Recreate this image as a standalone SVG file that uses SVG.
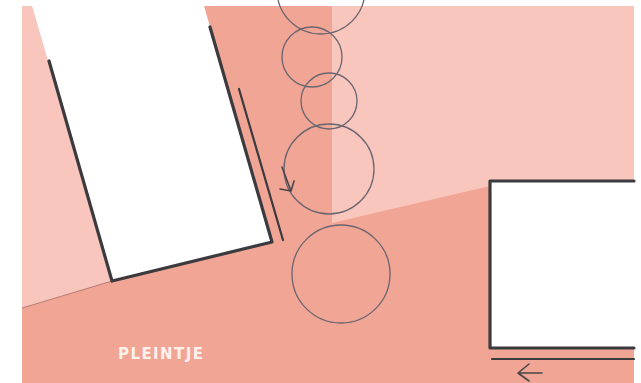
<svg xmlns="http://www.w3.org/2000/svg" width="641" height="383" viewBox="0 0 641 383">
  <style>
    .ink { fill: none; stroke: #3b3b3f; stroke-linecap: round; stroke-linejoin: round; }
    .bold { stroke-width: 3.2; }
    .thin { stroke-width: 2.2; }
    .circ { fill: none; stroke: #6a6570; stroke-width: 1.3; }
    .arrow { fill: none; stroke: #4a4548; stroke-width: 1.6; stroke-linecap: round; stroke-linejoin: round; }
    .light { fill: #f9c6bd; }
    .label { font-family: "DejaVu Sans", Verdana, sans-serif; font-weight: bold; font-size: 15px; fill: #fdf1ec; }
  </style>
  <rect width="641" height="383" fill="#ffffff"/>
  <g id="ground">
    <rect x="22" y="6" width="612" height="377" fill="#f1a595"/>
    <polygon class="light" points="22,6 32,6 112,281 22,308"/>
    <line x1="22" y1="308" x2="112" y2="281" stroke="#8a5a55" stroke-width="1" opacity="0.6"/>
    <polygon class="light" points="332,6 634,6 634,181 490,181 490,186 332,223"/>
  </g>
  <g id="building-left">
    <polygon points="32,6 204,6 272,242 112,281" fill="#ffffff"/>
    <path class="ink bold" d="M49,61 L112,281 L272,242 L210,27"/>
    <path class="ink thin" d="M239,89 L283,240"/>
  </g>
  <g id="building-right">
    <rect x="490" y="181" width="144" height="167" fill="#ffffff"/>
    <path class="ink bold" d="M634,181 L490,181 L490,348 L634,348"/>
    <path class="ink thin" d="M492,359 L634,359"/>
  </g>
  <g id="circles">
    <circle class="circ" cx="321" cy="-10" r="44"/>
    <circle class="circ" cx="312" cy="57" r="30"/>
    <circle class="circ" cx="329" cy="101" r="28"/>
    <circle class="circ" cx="329" cy="169" r="45"/>
    <circle class="circ" cx="341" cy="274" r="49"/>
  </g>
  <g id="arrows">
    <path class="arrow" d="M282,167 L291,191 M280,189 L291,191 L294,181"/>
    <path class="arrow" d="M542,373 L518,373 M529,364 L518,373 L529,381"/>
  </g>
  <text class="label" x="118" y="359" textLength="85">PLEINTJE</text>
</svg>
